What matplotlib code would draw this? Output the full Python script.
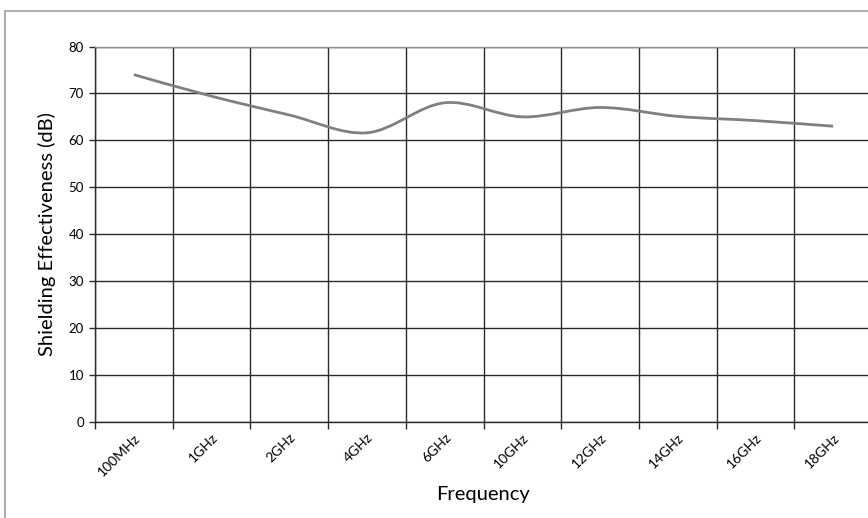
import numpy as np
import matplotlib.pyplot as plt
from matplotlib.path import Path
from matplotlib.patches import PathPatch, Rectangle

plt.rcParams['font.family'] = ['Lato', 'DejaVu Sans']

# data
freqs = ["100MHz", "1GHz", "2GHz", "4GHz", "6GHz", "10GHz", "12GHz", "14GHz", "16GHz", "18GHz"]
shielding_db = [74.0, 69.4, 65.4, 61.6, 68.0, 65.0, 67.0, 65.1, 64.2, 63.0]


def smooth_path(xs, ys):
    # excel style smoothed line: cubic bezier segments, catmull-rom control points
    pts = np.column_stack([xs, ys])
    n = len(pts)
    verts = [pts[0]]
    codes = [Path.MOVETO]
    for i in range(n - 1):
        p0 = pts[i - 1] if i > 0 else pts[i]
        p1 = pts[i]
        p2 = pts[i + 1]
        p3 = pts[i + 2] if i + 2 < n else pts[i + 1]
        c1 = p1 + (p2 - p0) / 6.0
        c2 = p2 - (p3 - p1) / 6.0
        verts += [c1, c2, p2]
        codes += [Path.CURVE4] * 3
    return Path(verts, codes)


def run():
    fig = plt.figure(figsize=(8.68, 5.18), dpi=100)
    # outer chart border
    fig.patches.append(Rectangle((5 / 868, -0.1), 1.2, 1.1 - 11 / 518,
                                 transform=fig.transFigure, fill=False,
                                 edgecolor="#b0b0b0", linewidth=1.5))

    ax = fig.add_axes([95 / 868, 1 - 421.7 / 518, 777 / 868, (421.7 - 46.5) / 518])
    x = np.arange(len(freqs))
    ax.add_patch(PathPatch(smooth_path(x, shielding_db), fill=False,
                           edgecolor="#808080", linewidth=2.0, capstyle="butt"))

    ax.set_xlim(-0.5, len(freqs) - 0.5)
    ax.set_ylim(0, 80)
    ax.set_yticks(np.arange(0, 81, 10))
    ax.set_xticks(x)
    ax.set_xticklabels(freqs, rotation=45, ha="right", rotation_mode="anchor", fontsize=10)
    ax.set_xticks(np.arange(-0.5, len(freqs), 1), minor=True)

    gc = "#2a2a2a"
    ax.grid(True, axis="y", which="major", color=gc, linewidth=1.0)
    ax.grid(True, axis="x", which="minor", color=gc, linewidth=1.0)
    ax.tick_params(axis="x", which="major", length=0, pad=7)
    ax.tick_params(axis="x", which="minor", length=5, color=gc, width=1.0)
    ax.tick_params(axis="y", length=4, color=gc, width=1.0, labelsize=9.5, pad=4)
    for s in ax.spines.values():
        s.set_color(gc)
        s.set_linewidth(1.0)
    ax.spines["top"].set_color("#909090")
    ax.spines["right"].set_visible(False)
    ax.set_axisbelow(True)

    ax.set_ylabel("Shielding Effectiveness (dB)", fontsize=14.5, labelpad=9)
    ax.set_xlabel("Frequency", fontsize=14.5, labelpad=6)

    fig.savefig("out.png", dpi=100)


if __name__ == "__main__":
    run()
